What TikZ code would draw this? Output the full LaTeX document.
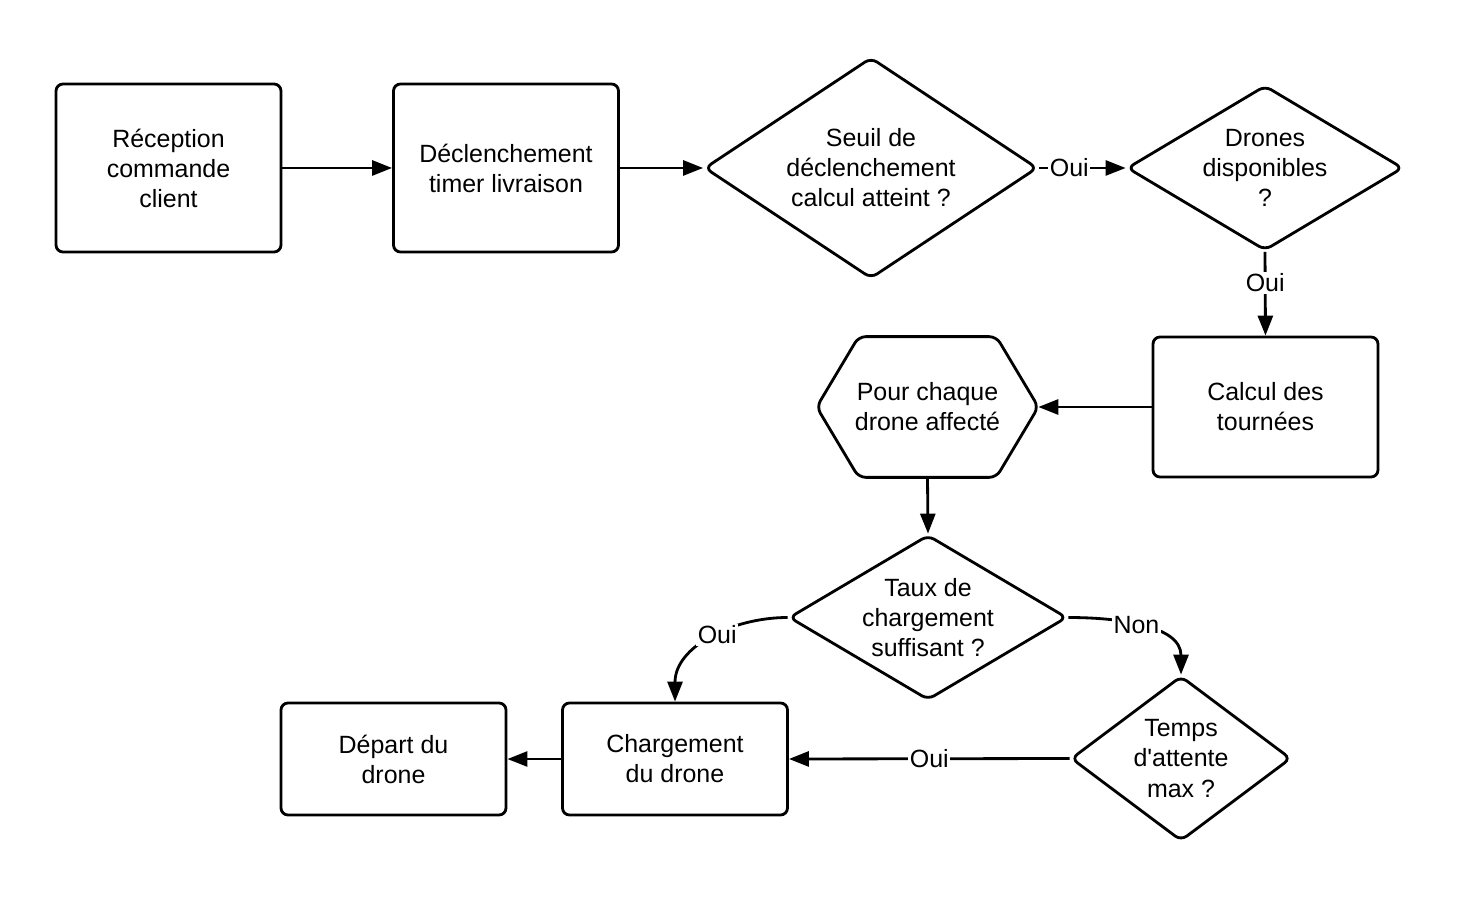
\documentclass[tikz,border=0pt]{standalone}
\usepackage{fontspec}
\setmainfont{Liberation Sans}
\usetikzlibrary{arrows.meta,shapes.geometric}

\begin{document}
\begin{tikzpicture}[
  font=\fontsize{14.2}{17.1}\selectfont,
  box/.style={draw,line width=1.6pt,rounded corners=4pt,minimum width=4.5cm,inner sep=0pt,align=center},
  choice/.style={draw,diamond,line width=1.6pt,rounded corners=4pt,inner sep=-1pt,align=center},
  hexa/.style={minimum width=4.42cm,minimum height=2.8cm,inner sep=0pt,align=center},
  link/.style={-{Triangle[length=4mm,width=3mm]},line width=1.6pt},
  lbl/.style={fill=white,inner sep=1pt},
]
  \useasboundingbox (0,0) rectangle (29.26,18);

  \node[box,minimum height=3.36cm] (recep) at (3.37,14.64) {Réception\\commande\\client};
  \node[box,minimum height=3.36cm] (decl) at (10.12,14.64) {Déclenchement\\timer livraison};
  \node[choice,aspect=1.5,minimum width=6.66cm,minimum height=4.42cm] (seuil) at (17.42,14.64) {Seuil de\\déclenchement\\calcul atteint ?};
  \node[choice,aspect=1.67,minimum width=5.52cm,minimum height=3.3cm] (dispo) at (25.3,14.64) {Drones\\disponibles\\?};
  \node[box,minimum height=2.8cm] (calcul) at (25.31,9.86) {Calcul des\\tournées};
  \node[hexa] (pour) at (18.55,9.86) {Pour chaque\\drone affecté};
  \draw[line width=1.6pt,rounded corners=4pt] (pour.west) -- ([xshift=0.84cm]pour.north west)
    -- ([xshift=-0.84cm]pour.north east) -- (pour.east) -- ([xshift=-0.84cm]pour.south east)
    -- ([xshift=0.84cm]pour.south west) -- cycle;
  \node[choice,aspect=1.68,minimum width=5.56cm,minimum height=3.3cm] (taux) at (18.56,5.65) {Taux de\\chargement\\suffisant ?};
  \node[choice,aspect=1.33,minimum width=4.4cm,minimum height=3.3cm] (temps) at (23.62,2.83) {Temps\\d\textquotesingle attente\\max ?};
  \node[box,minimum height=2.24cm] (charg) at (13.5,2.82) {Chargement\\du drone};
  \node[box,minimum height=2.24cm] (depart) at (7.87,2.82) {Départ du\\drone};

  \draw[link] (recep.east) -- (decl.west);
  \draw[link] (decl.east) -- (seuil.west);
  \draw[link] (seuil.east) -- node[lbl,pos=0.35]{Oui} (dispo.west);
  \draw[link] (dispo.south) -- node[lbl,pos=0.37]{Oui} (calcul.north);
  \draw[link] (calcul.west) -- (pour.east);
  \draw[link] (pour.south) -- (taux.north);
  \draw[link] (taux.west) to[out=180,in=90] node[lbl,pos=0.45]{Oui} (charg.north);
  \draw[link] (taux.east) to[out=0,in=90] node[lbl,pos=0.45]{Non} (temps.north);
  \draw[link] (temps.west) -- node[lbl,pos=0.5]{Oui} (charg.east);
  \draw[link] (charg.west) -- (depart.east);
\end{tikzpicture}
\end{document}
